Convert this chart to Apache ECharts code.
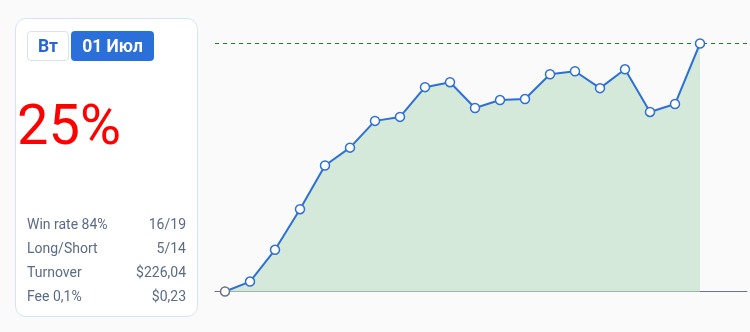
<!DOCTYPE html>
<html>
<head>
<meta charset="utf-8">
<script src="https://cdn.jsdelivr.net/npm/echarts@6/dist/echarts.min.js"></script>
<style>
  html, body { margin: 0; padding: 0; background: #fafafa; }
  #wrap { position: relative; width: 750px; height: 332px; overflow: hidden; font-family: Roboto, "Noto Sans", sans-serif; }
  #chart { position: absolute; left: 0; top: 0; width: 750px; height: 332px; }
  #card { position: absolute; left: 15px; top: 18px; width: 181px; height: 297px; background: #fff; border: 1px solid #d5e3f7; border-radius: 11px; box-sizing: content-box; }
  .btn { position: absolute; top: 12px; height: 28px; line-height: 28px; font-weight: bold; font-size: 17.5px; text-align: center; border-radius: 4px; }
  #b1 { left: 11px; width: 40px; border: 1px solid #d5e3f7; color: #2566d3; }
  #b2 { left: 55px; width: 83px; height: 30px; line-height: 30px; background: #2b6fd8; color: #fff; }
  #big { position: absolute; left: 1px; top: 78px; font-size: 56px; line-height: 56px; color: #ff0000; font-family: Roboto, sans-serif; }
  .row { position: absolute; left: 11px; width: 159px; height: 20px; line-height: 20px; font-size: 14px; color: #5b6b87; }
  .row .r { position: absolute; right: 0; top: 0; }
</style>
</head>
<body>
<div id="wrap">
  <div id="chart"></div>
  <div id="card">
    <div class="btn" id="b1"></div>
    <div class="btn" id="b2"></div>
    <div id="big"></div>
    <div id="rows"></div>
  </div>
</div>
<script>
const dayLabel = "Вт";
const dateLabel = "01 Июл";
const bigText = "25%";
const statNames = ["Win rate 84%", "Long/Short", "Turnover", "Fee 0,1%"];
const statValues = ["16/19", "5/14", "$226,04", "$0,23"];
const pnlValues = [0, 1.0, 4.2, 8.3, 12.7, 14.5, 17.2, 17.6, 20.6, 21.1, 18.5, 19.3, 19.4, 21.9, 22.2, 20.5, 22.4, 18.1, 18.9, 25.0];

document.getElementById('b1').textContent = dayLabel;
document.getElementById('b2').textContent = dateLabel;
document.getElementById('big').textContent = bigText;
const rows = document.getElementById('rows');
const rowTops = [195, 219, 243, 267];
statNames.forEach((n, i) => {
  const d = document.createElement('div');
  d.className = 'row';
  d.style.top = rowTops[i] + 'px';
  d.textContent = n;
  const r = document.createElement('span');
  r.className = 'r';
  r.textContent = statValues[i];
  d.appendChild(r);
  rows.appendChild(d);
});

const maxVal = Math.max(...pnlValues);
const seriesData = pnlValues.map((v, i) => {
  const item = { value: [i, v] };
  if (i === 0) item.itemStyle = { borderColor: '#6b7682' };
  return item;
});

const chart = echarts.init(document.getElementById('chart'), null, { renderer: 'canvas' });
chart.setOption({
  animation: false,
  backgroundColor: 'transparent',
  grid: { left: 215, right: 3, top: 43.5, bottom: 40.5, containLabel: false },
  xAxis: {
    type: 'value', min: -0.4, max: 20.88,
    axisLine: { show: true, onZero: true, lineStyle: { color: '#6b7682', width: 1 } },
    axisTick: { show: false }, axisLabel: { show: false }, splitLine: { show: false }
  },
  yAxis: {
    type: 'value', min: 0, max: maxVal,
    axisLine: { show: false }, axisTick: { show: false }, axisLabel: { show: false }, splitLine: { show: false }
  },
  series: [{
    type: 'line',
    data: seriesData,
    symbol: 'circle',
    symbolSize: 9,
    lineStyle: { color: '#2f6fd8', width: 2 },
    itemStyle: { color: '#ffffff', borderColor: '#2f6fd8', borderWidth: 1.5 },
    areaStyle: { color: '#d4e9da', opacity: 1 },
    z: 3,
    markLine: {
      silent: true,
      symbol: 'none',
      label: { show: false },
      lineStyle: { color: '#1f7a2e', type: [4, 4], width: 1 },
      data: [{ yAxis: maxVal }],
      z: 1
    }
  }]
});
</script>
</body>
</html>
